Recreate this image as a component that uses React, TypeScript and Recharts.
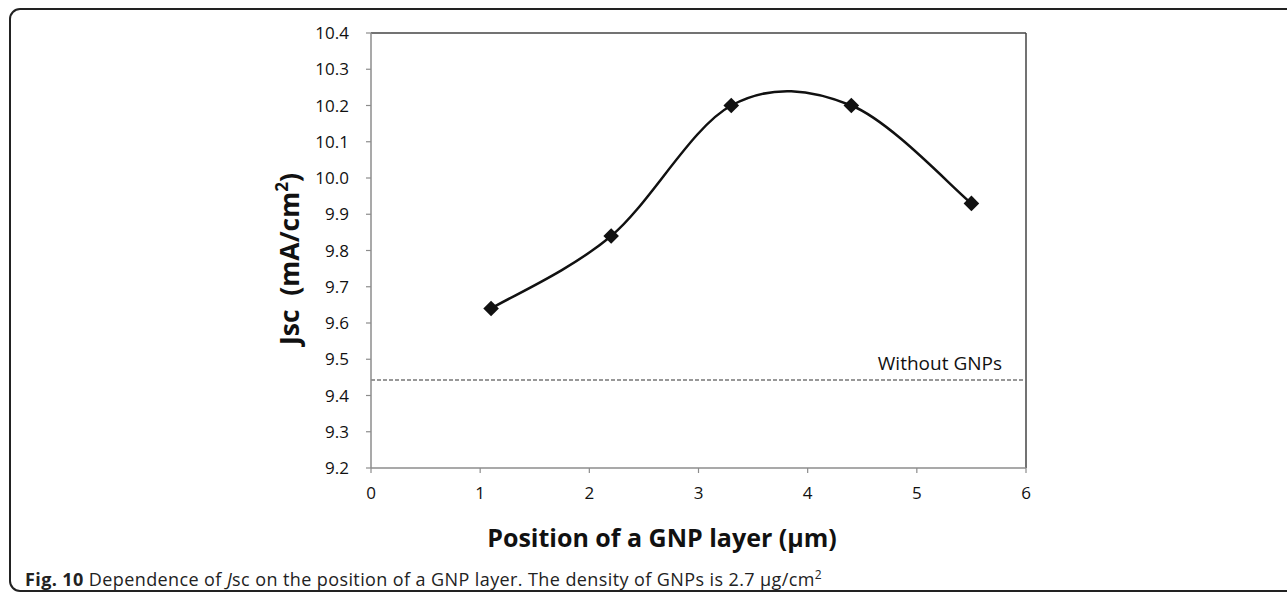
import React from "react";
import { LineChart, Line, XAxis, YAxis, ReferenceLine } from "recharts";

const positions = [1.1, 2.2, 3.3, 4.4, 5.5];
const jscValues = [9.64, 9.84, 10.2, 10.2, 9.93];
const baselineJsc = 9.443;
const baselineLabel = "Without GNPs";
const xTicks = [0, 1, 2, 3, 4, 5, 6];
const yTicks = [9.2, 9.3, 9.4, 9.5, 9.6, 9.7, 9.8, 9.9, 10.0, 10.1, 10.2, 10.3, 10.4];
const xTitle = "Position of a GNP layer (μm)";

const data = positions.map((p, i) => ({ pos: p, jsc: jscValues[i] }));

const FONT = "'Open Sans', 'Noto Sans', sans-serif";

// Catmull-Rom style smoothing (as in spreadsheet "smoothed line")
function smoothCurve(context: any) {
  let pts: [number, number][] = [];
  return {
    areaStart() {},
    areaEnd() {},
    lineStart() {
      pts = [];
    },
    lineEnd() {
      const n = pts.length;
      if (!n) return;
      context.moveTo(pts[0][0], pts[0][1]);
      for (let i = 0; i < n - 1; i++) {
        const p0 = pts[i - 1] || pts[i];
        const p1 = pts[i];
        const p2 = pts[i + 1];
        const p3 = pts[i + 2] || p2;
        context.bezierCurveTo(
          p1[0] + (p2[0] - p0[0]) / 6,
          p1[1] + (p2[1] - p0[1]) / 6,
          p2[0] - (p3[0] - p1[0]) / 6,
          p2[1] - (p3[1] - p1[1]) / 6,
          p2[0],
          p2[1]
        );
      }
    },
    point(x: number, y: number) {
      pts.push([+x, +y]);
    },
  };
}

const Diamond = (props: any) => {
  const { cx, cy } = props;
  if (cx == null || cy == null) return null;
  const r = 7.8;
  return (
    <path
      d={`M${cx},${cy - r}L${cx + r},${cy}L${cx},${cy + r}L${cx - r},${cy}Z`}
      fill="#111"
      stroke="none"
    />
  );
};

const YTitle = () => {
  const cx = 289;
  const cy = 259;
  return (
    <text
      x={cx}
      y={cy}
      transform={`rotate(-90, ${cx}, ${cy})`}
      textAnchor="middle"
      dominantBaseline="central"
      fontFamily={FONT}
      fontWeight={700}
      fontSize={26.5}
      fill="#111"
      style={{ whiteSpace: "pre" }}
    >
      <tspan>{"Jsc\u00a0\u00a0(mA/cm"}</tspan>
      <tspan dy={-8} fontSize={17}>2</tspan>
      <tspan dy={8}>)</tspan>
    </text>
  );
};

const XTitle = () => (
  <text
    x={662}
    y={537}
    textAnchor="middle"
    dominantBaseline="central"
    fontFamily={FONT}
    fontWeight={700}
    fontSize={25}
    fill="#111"
  >
    {xTitle}
  </text>
);

const BaselineLabel = (props: any) => {
  const vb = props.viewBox || {};
  return (
    <text
      x={1002}
      y={(vb.y ?? 380) - 17}
      textAnchor="end"
      dominantBaseline="central"
      fontFamily={FONT}
      fontSize={19}
      fill="#111"
    >
      {baselineLabel}
    </text>
  );
};

export default function App() {
  return (
    <div
      style={{
        position: "absolute",
        left: 0,
        top: 0,
        width: 1287,
        height: 594,
        overflow: "hidden",
        background: "#fff",
      }}
    >
      <div
        style={{
          position: "absolute",
          left: 9,
          top: 8,
          width: 1320,
          height: 584,
          border: "2px solid #222",
          borderRadius: 11,
          boxSizing: "border-box",
        }}
      />
      <div style={{ position: "absolute", left: 0, top: 0 }}>
        <LineChart
          width={1287}
          height={594}
          data={data}
          margin={{ top: 33, right: 261, bottom: 0, left: 0 }}
        >
          <XAxis
            dataKey="pos"
            type="number"
            domain={[0, 6]}
            ticks={xTicks}
            height={126}
            axisLine={{ stroke: "#8c8c8c", strokeWidth: 1.5 }}
            tickLine={{ stroke: "#8c8c8c", strokeWidth: 1.2 }}
            tickSize={5}
            tickMargin={14}
            tick={{ fill: "#111", fontSize: 17, fontFamily: FONT }}
            interval={0}
            allowDecimals={false}
            label={<XTitle />}
          />
          <YAxis
            type="number"
            domain={[9.2, 10.4]}
            ticks={yTicks}
            width={371}
            axisLine={{ stroke: "#8c8c8c", strokeWidth: 1.5 }}
            tickLine={{ stroke: "#8c8c8c", strokeWidth: 1.2 }}
            tickSize={5}
            tickMargin={17}
            tick={{ fill: "#111", fontSize: 17, fontFamily: FONT }}
            tickFormatter={(v: number) => v.toFixed(1)}
            interval={0}
            allowDataOverflow
            label={<YTitle />}
          />
          <ReferenceLine y={10.4} stroke="#444" strokeWidth={1.5} />
          <ReferenceLine x={6} stroke="#444" strokeWidth={1.5} />
          <ReferenceLine
            y={baselineJsc}
            stroke="#777"
            strokeWidth={1.5}
            strokeDasharray="4 2"
            label={<BaselineLabel />}
          />
          <Line
            dataKey="jsc"
            type={smoothCurve as any}
            stroke="#111"
            strokeWidth={2.5}
            dot={<Diamond />}
            activeDot={false}
            isAnimationActive={false}
          />
        </LineChart>
      </div>
      <div
        style={{
          position: "absolute",
          left: 25,
          top: 566,
          fontFamily: FONT,
          fontSize: 18,
          letterSpacing: 0.4,
          color: "#222",
          whiteSpace: "nowrap",
          lineHeight: "26px",
        }}
      >
        <b>Fig. 10</b> Dependence of <i>J</i>sc on the position of a GNP layer. The density of GNPs is 2.7 μg/cm
        <sup style={{ fontSize: 12, verticalAlign: "7px", lineHeight: 0 }}>2</sup>
      </div>
    </div>
  );
}
